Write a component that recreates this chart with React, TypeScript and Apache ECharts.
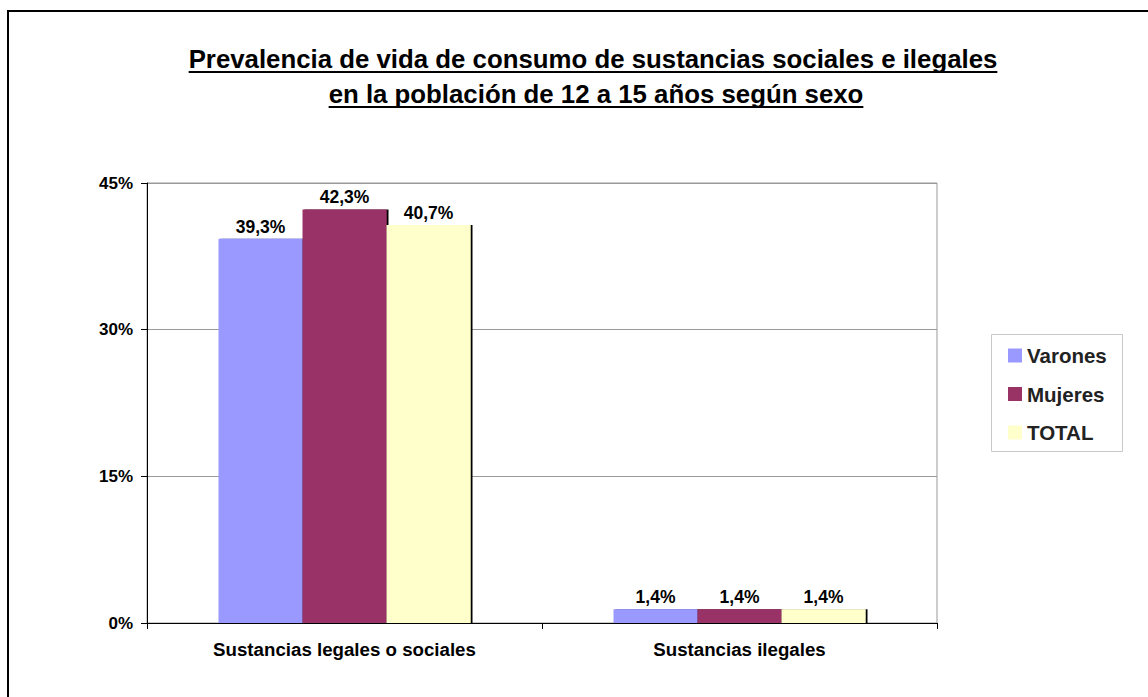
import React, { useEffect, useRef } from "react";
import * as echarts from "echarts";

const categories = ["Sustancias legales o sociales", "Sustancias ilegales"];
const seriesNames = ["Varones", "Mujeres", "TOTAL"];
const varones = [39.3, 1.4];
const mujeres = [42.3, 1.4];
const total = [40.7, 1.4];
const colors = ["#9999FF", "#993366", "#FFFFCC"];
const titleLines = [
  "Prevalencia de vida de consumo de sustancias sociales e ilegales",
  "en la población de 12 a 15 años según sexo",
];

const FONT = '"Liberation Sans", Arial, sans-serif';

function measure(text: string, size: number): number {
  const c = document.createElement("canvas");
  const ctx = c.getContext("2d");
  if (!ctx) return text.length * size * 0.55;
  ctx.font = `bold ${size}px ${FONT}`;
  return ctx.measureText(text).width;
}

export default function App() {
  const ref = useRef<HTMLDivElement>(null);
  useEffect(() => {
    if (!ref.current) return;
    const chart = echarts.init(ref.current, null, { renderer: "svg" });
    const titleSize = 25.8;
    const titleCenters = [593, 596];
    const baselines = [68, 103];
    const graphics: any[] = [
      {
        type: "rect",
        shape: { x: 8, y: 11, width: 1300, height: 900 },
        style: { fill: "none", stroke: "#000", lineWidth: 2 },
        silent: true,
      },
      {
        type: "rect",
        shape: { x: 991.5, y: 334.5, width: 131, height: 117 },
        style: { fill: "#fff", stroke: "#c8c8c8", lineWidth: 1 },
        z: -1,
        silent: true,
      },
    ];
    titleLines.forEach((t, i) => {
      const w = measure(t, titleSize);
      graphics.push({
        type: "text",
        x: titleCenters[i],
        y: baselines[i] - 9,
        style: {
          text: t,
          font: `bold ${titleSize}px ${FONT}`,
          fill: "#000",
          align: "center",
          verticalAlign: "middle",
        },
      });
      graphics.push({
        type: "line",
        shape: {
          x1: titleCenters[i] - w / 2,
          y1: baselines[i] + 4,
          x2: titleCenters[i] + w / 2,
          y2: baselines[i] + 4,
        },
        style: { stroke: "#000", lineWidth: 2 },
      });
    });

    const fmt = (v: number) => v.toFixed(1).replace(".", ",") + "%";
    const data = [varones, mujeres, total];
    chart.setOption({
      animation: false,
      backgroundColor: "#fff",
      textStyle: { fontFamily: FONT },
      grid: {
        left: 147,
        right: 211,
        top: 183,
        bottom: 74,
        show: true,
        borderColor: "#999",
        borderWidth: 1,
      },
      legend: {
        orient: "vertical",
        left: 1003,
        top: 340,
        itemWidth: 14,
        itemHeight: 14,
        itemGap: 17.5,
        icon: "rect",
        data: seriesNames,
        textStyle: {
          fontFamily: FONT,
          fontWeight: "bold",
          fontSize: 20.5,
          color: "#222",
        },
      },
      xAxis: {
        type: "category",
        data: categories,
        axisLine: { lineStyle: { color: "#000", width: 1 } },
        axisTick: { show: true, length: 6, lineStyle: { color: "#000" } },
        axisLabel: {
          fontFamily: FONT,
          fontWeight: "bold",
          fontSize: 18.7,
          color: "#000",
          margin: 17,
        },
      },
      yAxis: {
        type: "value",
        min: 0,
        max: 45,
        interval: 15,
        axisLine: { show: true, lineStyle: { color: "#000", width: 1 } },
        axisTick: { show: true, length: 6, lineStyle: { color: "#000" } },
        splitLine: { show: true, lineStyle: { color: "#999", width: 1 } },
        axisLabel: {
          formatter: "{value}%",
          fontFamily: FONT,
          fontWeight: "bold",
          fontSize: 17,
          color: "#000",
          margin: 14,
        },
      },
      series: seriesNames.map((name, i) => ({
        name,
        type: "bar",
        data: data[i],
        barWidth: 84,
        barGap: "0%",
        itemStyle: {
          color: colors[i],
          shadowColor: "#000",
          shadowOffsetX: 2,
          shadowOffsetY: 0,
          shadowBlur: 0,
        },
        label: {
          show: true,
          position: "top",
          distance: 3,
          formatter: (p: any) => fmt(p.value),
          fontFamily: FONT,
          fontWeight: "bold",
          fontSize: 17.5,
          color: "#000",
        },
      })),
      graphic: graphics,
    });
    return () => chart.dispose();
  }, []);
  return (
    <div
      ref={ref}
      style={{ position: "absolute", left: 0, top: 0, width: 1148, height: 697 }}
    />
  );
}
